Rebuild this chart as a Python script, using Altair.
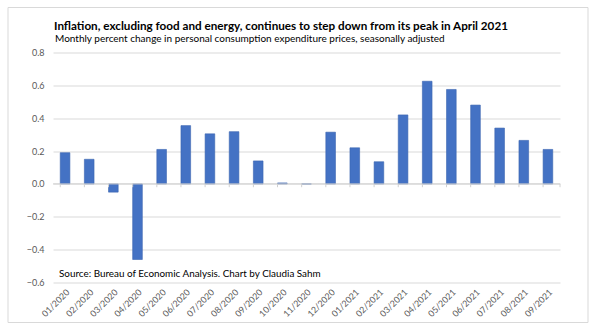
import altair as alt
import pandas as pd

months = ["01/2020", "02/2020", "03/2020", "04/2020", "05/2020", "06/2020", "07/2020",
          "08/2020", "09/2020", "10/2020", "11/2020", "12/2020", "01/2021", "02/2021",
          "03/2021", "04/2021", "05/2021", "06/2021", "07/2021", "08/2021", "09/2021"]
values = [0.19, 0.15, -0.05, -0.46, 0.21, 0.355, 0.305, 0.318, 0.14, 0.006, 0.0,
          0.315, 0.22, 0.135, 0.42, 0.625, 0.575, 0.48, 0.34, 0.265, 0.21]
y_ticks = [-0.6, -0.4, -0.2, 0.0, 0.2, 0.4, 0.6, 0.8]

title_text = "Inflation, excluding food and energy, continues to step down from its peak in April 2021"
subtitle_text = "Monthly percent change in personal consumption expenditure prices, seasonally adjusted"
source_text = "Source: Bureau of Economic Analysis. Chart by Claudia Sahm"

df = pd.DataFrame({"month": months, "value": values})

W, H = 507, 230
FONT = "Lato"
GRID = "#d9d9d9"

xscale = alt.Scale(domain=months, paddingInner=0.6, paddingOuter=0.3)
yscale = alt.Scale(domain=[-0.6, 0.8], nice=False, zero=False)

xaxis = alt.Axis(title=None, labelAngle=-45, labelFont=FONT, labelFontSize=8.8,
                 labelColor="#595959", domain=False, ticks=False, labelPadding=5)
yaxis = alt.Axis(title=None, values=y_ticks, format=".1f", labelFont=FONT,
                 labelFontSize=9, labelColor="#595959", domain=False, ticks=False,
                 gridColor=GRID, gridWidth=1, labelPadding=9, labelOverlap=False)

bars = alt.Chart(df).mark_bar(color="#4472C4", stroke="#3a64b0", strokeWidth=0.6).encode(
    x=alt.X("month:O", scale=xscale, sort=months, axis=xaxis),
    y=alt.Y("value:Q", scale=yscale, axis=yaxis),
)

zero_df = pd.DataFrame({"value": [0.0], "bot": [-0.02]})
zero_line = alt.Chart(zero_df).mark_rule(color="#d0d0d0", strokeWidth=1).encode(
    y=alt.Y("value:Q", scale=yscale, axis=yaxis),
    x=alt.value(0), x2=alt.value(W),
)

tick_df = pd.DataFrame({"month": months, "value": [0.0] * len(months), "bot": [-0.02] * len(months)})
ticks = alt.Chart(tick_df).mark_rule(color="#d0d0d0", strokeWidth=1).encode(
    x=alt.X("month:O", scale=xscale, sort=months, bandPosition=0, axis=xaxis),
    y=alt.Y("value:Q", scale=yscale, axis=yaxis),
    y2="bot:Q",
)
last_tick = alt.Chart(zero_df).mark_rule(color="#d0d0d0", strokeWidth=1).encode(
    x=alt.value(W),
    y=alt.Y("value:Q", scale=yscale, axis=yaxis),
    y2="bot:Q",
)

source = alt.Chart(pd.DataFrame({"t": [source_text]})).mark_text(
    align="left", baseline="middle", font=FONT, fontSize=9.9, color="#000000"
).encode(text="t:N", x=alt.value(6), y=alt.value(221))

title_mark = alt.Chart(pd.DataFrame({"t": [title_text]})).mark_text(
    align="left", baseline="alphabetic", font=FONT, fontSize=11.7, fontWeight="bold", color="#000000"
).encode(text="t:N", x=alt.value(1), y=alt.value(-23))

subtitle_mark = alt.Chart(pd.DataFrame({"t": [subtitle_text]})).mark_text(
    align="left", baseline="alphabetic", font=FONT, fontSize=10, color="#000000"
).encode(text="t:N", x=alt.value(2), y=alt.value(-10.5))

border = alt.Chart(zero_df).mark_rect(fill=None, stroke=GRID, strokeWidth=1).encode(
    x=alt.value(-45), x2=alt.value(535), y=alt.value(-45), y2=alt.value(270),
)

chart = alt.layer(border, bars, zero_line, ticks, last_tick, source, title_mark, subtitle_mark).properties(
    width=W, height=H,
    autosize=alt.AutoSizeParams(type="none"),
    padding={"left": 53, "top": 52.5, "right": 40, "bottom": 46.5},
).configure(background="white").configure_view(stroke=None)

chart.save("out.html", embed_options={"renderer": "svg", "actions": False})
